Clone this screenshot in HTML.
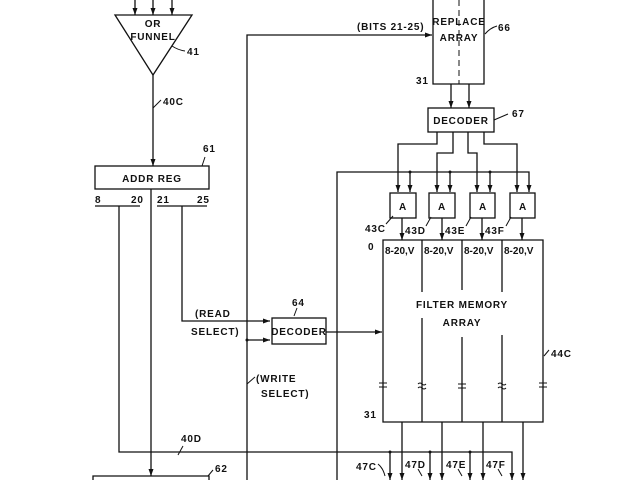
<!DOCTYPE html>
<html><head><meta charset="utf-8"><style>
html,body{margin:0;padding:0;background:#fff;overflow:hidden;}
svg{display:block;}
text{font-family:"Liberation Sans",sans-serif;font-size:10px;font-weight:bold;fill:#111;letter-spacing:0.8px;}
</style></head><body>
<svg width="640" height="480" viewBox="0 0 640 480" xmlns="http://www.w3.org/2000/svg">
<defs><marker id="a" markerWidth="8" markerHeight="8" refX="7" refY="4" orient="auto" markerUnits="userSpaceOnUse"><path d="M0,1.5 L7,4 L0,6.5 z" fill="#111"/></marker></defs>
<g stroke="#111" stroke-width="1.3" fill="none">
<!-- funnel -->
<line x1="135" y1="0" x2="135" y2="15" marker-end="url(#a)"/>
<line x1="153" y1="0" x2="153" y2="15" marker-end="url(#a)"/>
<line x1="172" y1="0" x2="172" y2="15" marker-end="url(#a)"/>
<path d="M115,15 L192,15 L153,75 Z"/>
<path d="M172,46 Q178,50 185,51" stroke-width="1"/>
<line x1="153" y1="75" x2="153" y2="166" marker-end="url(#a)"/>
<path d="M153,108 L161,100" stroke-width="1"/>
<!-- addr reg -->
<rect x="95" y="166" width="114" height="23"/>
<path d="M202,166 L205,157" stroke-width="1"/>
<line x1="95" y1="206" x2="140" y2="206"/>
<line x1="157" y1="206" x2="207" y2="206"/>
<path d="M119,206 L119,452 L512,452 L512,480" marker-end="url(#a)"/>
<line x1="151" y1="189" x2="151" y2="476" marker-end="url(#a)"/>
<path d="M178,455 L183,446" stroke-width="1"/>
<path d="M182,206 L182,321 L270,321" marker-end="url(#a)"/>
<!-- box 62 -->
<path d="M93,480 L93,476 L209,476 L209,480"/>
<path d="M208,476 L213,470" stroke-width="1"/>
<!-- left bus x=247 -->
<path d="M247,480 L247,35 L432,35" marker-end="url(#a)"/>
<line x1="247" y1="340" x2="270" y2="340" marker-end="url(#a)"/>
<path d="M247,384 L255,377" stroke-width="1"/>
<!-- decoder 64 -->
<rect x="272" y="318" width="54" height="26"/>
<path d="M294,316 L297,308" stroke-width="1"/>
<line x1="326" y1="332" x2="382" y2="332" marker-end="url(#a)"/>
<!-- replace array -->
<path d="M433,0 L433,84 L484,84 L484,0"/>
<line x1="459" y1="0" x2="459" y2="84" stroke-dasharray="6,4" stroke-width="1"/>
<path d="M485,34 Q490,28 497,26" stroke-width="1"/>
<line x1="451" y1="84" x2="451" y2="108" marker-end="url(#a)"/>
<line x1="469" y1="84" x2="469" y2="108" marker-end="url(#a)"/>
<!-- decoder 67 -->
<rect x="428" y="108" width="66" height="24"/>
<path d="M494,120 L508,114" stroke-width="1"/>
<!-- fan out -->
<path d="M437,132 L437,144 L398,144 L398,192" marker-end="url(#a)"/>
<path d="M453,132 L453,153 L437,153 L437,192" marker-end="url(#a)"/>
<path d="M468,132 L468,153 L477,153 L477,192" marker-end="url(#a)"/>
<path d="M484,132 L484,144 L517,144 L517,192" marker-end="url(#a)"/>
<!-- bus y=172 -->
<path d="M337,480 L337,172 L529,172 L529,192" marker-end="url(#a)"/>
<line x1="410" y1="172" x2="410" y2="192" marker-end="url(#a)"/>
<line x1="450" y1="172" x2="450" y2="192" marker-end="url(#a)"/>
<line x1="490" y1="172" x2="490" y2="192" marker-end="url(#a)"/>
<!-- A boxes -->
<rect x="390" y="193" width="26" height="25"/>
<rect x="429" y="193" width="26" height="25"/>
<rect x="470" y="193" width="25" height="25"/>
<rect x="510" y="193" width="25" height="25"/>
<line x1="402" y1="218" x2="402" y2="240" marker-end="url(#a)"/>
<line x1="442" y1="218" x2="442" y2="240" marker-end="url(#a)"/>
<line x1="482" y1="218" x2="482" y2="240" marker-end="url(#a)"/>
<line x1="522" y1="218" x2="522" y2="240" marker-end="url(#a)"/>
<path d="M386,224 L393,216" stroke-width="1"/>
<path d="M426,226 L431,217" stroke-width="1"/>
<path d="M466,226 L471,217" stroke-width="1"/>
<path d="M506,226 L511,217" stroke-width="1"/>
<!-- filter memory array -->
<path d="M383,240 L543,240 L543,422 L383,422 Z"/>
<line x1="422" y1="240" x2="422" y2="292"/><line x1="422" y1="318" x2="422" y2="422"/>
<line x1="462" y1="240" x2="462" y2="290"/><line x1="462" y1="337" x2="462" y2="422"/>
<line x1="502" y1="240" x2="502" y2="292"/><line x1="502" y1="335" x2="502" y2="422"/>
<path d="M544,356 L549,350" stroke-width="1"/>
<!-- output arrows -->
<line x1="402" y1="422" x2="402" y2="480" marker-end="url(#a)"/>
<line x1="442" y1="422" x2="442" y2="480" marker-end="url(#a)"/>
<line x1="483" y1="422" x2="483" y2="480" marker-end="url(#a)"/>
<line x1="523" y1="422" x2="523" y2="480" marker-end="url(#a)"/>
<line x1="390" y1="452" x2="390" y2="480" marker-end="url(#a)"/>
<line x1="430" y1="452" x2="430" y2="480" marker-end="url(#a)"/>
<line x1="470" y1="452" x2="470" y2="480" marker-end="url(#a)"/>
<path d="M378,464 Q383,468 385,476" stroke-width="1"/>
<path d="M418,469 L422,476" stroke-width="1"/>
<path d="M458,469 L462,476" stroke-width="1"/>
<path d="M498,469 L502,476" stroke-width="1"/>
</g>
<g fill="#111">
<circle cx="247" cy="340" r="1.5"/><circle cx="410" cy="172" r="1.5"/><circle cx="450" cy="172" r="1.5"/><circle cx="490" cy="172" r="1.5"/>
<circle cx="390" cy="452" r="1.5"/><circle cx="430" cy="452" r="1.5"/><circle cx="470" cy="452" r="1.5"/>
</g>
<!-- break marks -->
<g stroke="#111" stroke-width="1" fill="none">
<path d="M379,383 h8 M379,387 h8"/><path d="M418,384 q2,-2 4,0 q2,2 4,0 M418,388 q2,-2 4,0 q2,2 4,0"/>
<path d="M458,384 h8 M458,388 h8"/><path d="M498,384 q2,-2 4,0 q2,2 4,0 M498,388 q2,-2 4,0 q2,2 4,0"/>
<path d="M539,383 h8 M539,387 h8"/>
</g>
<text x="153" y="27" text-anchor="middle">OR</text>
<text x="153" y="40" text-anchor="middle">FUNNEL</text>
<text x="187" y="55">41</text>
<text x="163" y="105">40C</text>
<text x="203" y="152">61</text>
<text x="152" y="182" text-anchor="middle">ADDR REG</text>
<text x="95" y="203">8</text>
<text x="131" y="203">20</text>
<text x="157" y="203">21</text>
<text x="197" y="203">25</text>
<text x="357" y="30">(BITS 21-25)</text>
<text x="459" y="25" text-anchor="middle">REPLACE</text>
<text x="459" y="41" text-anchor="middle">ARRAY</text>
<text x="498" y="31">66</text>
<text x="416" y="84">31</text>
<text x="461" y="124" text-anchor="middle">DECODER</text>
<text x="512" y="117">67</text>
<text x="403" y="210" text-anchor="middle">A</text>
<text x="442" y="210" text-anchor="middle">A</text>
<text x="483" y="210" text-anchor="middle">A</text>
<text x="523" y="210" text-anchor="middle">A</text>
<text x="365" y="232">43C</text>
<text x="405" y="234">43D</text>
<text x="445" y="234">43E</text>
<text x="485" y="234">43F</text>
<text x="368" y="250">0</text>
<text x="385" y="254" style="letter-spacing:0">8-20,V</text>
<text x="424" y="254" style="letter-spacing:0">8-20,V</text>
<text x="464" y="254" style="letter-spacing:0">8-20,V</text>
<text x="504" y="254" style="letter-spacing:0">8-20,V</text>
<text x="462" y="308" text-anchor="middle">FILTER MEMORY</text>
<text x="462" y="326" text-anchor="middle">ARRAY</text>
<text x="551" y="357">44C</text>
<text x="195" y="317">(READ</text>
<text x="191" y="335">SELECT)</text>
<text x="292" y="306">64</text>
<text x="299" y="335" text-anchor="middle">DECODER</text>
<text x="256" y="382">(WRITE</text>
<text x="261" y="397">SELECT)</text>
<text x="364" y="418">31</text>
<text x="181" y="442">40D</text>
<text x="215" y="472">62</text>
<text x="356" y="470">47C</text>
<text x="405" y="468">47D</text>
<text x="446" y="468">47E</text>
<text x="486" y="468">47F</text>
</svg>
</body></html>
